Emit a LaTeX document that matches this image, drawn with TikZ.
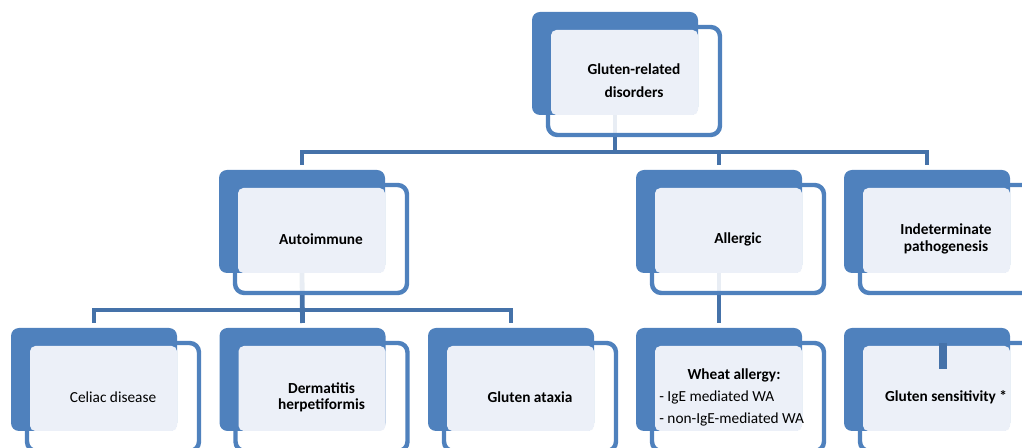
\documentclass[tikz,border=0pt]{standalone}
\usepackage{fontspec}
\setmainfont{Carlito}
\usepackage{tikz}
\usetikzlibrary{backgrounds}
\definecolor{boxblue}{HTML}{4F81BD}
\definecolor{linkblue}{HTML}{4572A9}
\definecolor{panelblue}{HTML}{ECF0F8}
\tikzstyle{backbox}=[fill=boxblue, rounded corners=6pt]
\tikzstyle{frontbox}=[draw=boxblue, line width=3.3pt, fill=white, fill opacity=0.88, rounded corners=7pt]
\tikzstyle{panelbox}=[fill=panelblue, rounded corners=4pt]
\tikzstyle{boxtext}=[inner sep=0pt, align=center, font=\fontsize{11.5}{13}\selectfont\bfseries]
\tikzstyle{link}=[draw=linkblue, line width=3.6pt]
\newcommand{\grbox}[5][]{%
  \draw[frontbox] ({#3+16},{#4+15}) rectangle ++(172,108);
  \fill[backbox] (#3,#4) rectangle ++(166,103);
  \fill[panelbox] ({#3+19},{#4+18}) rectangle ({#3+166},{#4+103});
  \node[boxtext, #1] (#2) at ({#3+102},{#4+69}) {#5};
  \coordinate (#2-in) at ({#3+83},{#4-5});
  \coordinate (#2-out) at ({#3+83},{#4+103});
}

\begin{document}
\begin{tikzpicture}[x=0.75pt, y=-0.75pt]
\useasboundingbox (0,0) rectangle (1022,448);
\clip (0,0) rectangle (1022,448);
% top
\grbox[font=\fontsize{11.5}{17.25}\selectfont\bfseries]{grd}{532}{12}{Gluten-related\\disorders}
% second row
\grbox{auto}{219}{170}{Autoimmune}
\grbox{allerg}{636}{170}{Allergic}
\grbox[font=\fontsize{11.5}{12.75}\selectfont\bfseries]{indet}{844}{170}{Indeterminate\\pathogenesis}
% third row
\grbox[font=\fontsize{11.5}{13}\selectfont]{celiac}{11}{328}{Celiac disease}
\grbox[font=\fontsize{11.5}{12}\selectfont\bfseries]{derm}{219.5}{328}{Dermatitis\\herpetiformis}
\grbox{ataxia}{428}{328}{Gluten ataxia}
\grbox[text width=112pt, align=none, xshift=-3pt, font=\fontsize{11.5}{16.5}\selectfont]{wheat}{636}{328}{%
  {\centering\bfseries Wheat allergy:\par}\raggedright
  - IgE mediated WA\par
  - non-IgE-mediated WA}
\grbox{gsens}{844}{328}{Gluten sensitivity *}
% connectors
\begin{scope}[on background layer]
\path (grd-out) ++(0,37) coordinate (bus1);
\draw[link] (grd-out) -- (bus1);
\draw[link] (auto-in) |- (bus1) -| (indet-in);
\draw[link] (allerg-in) -- (allerg-in |- bus1);
\path (auto-out) ++(0,37) coordinate (bus2);
\draw[link] (auto-out) -- (derm-in);
\draw[link] (celiac-in) |- (bus2) -| (ataxia-in);
\draw[link] (allerg-out) -- (wheat-in);
\end{scope}
\path (gsens-in) ++(16,20) coordinate (gs-stub);
\draw[link, line width=6pt] (gs-stub) -- ++(0,26);
\end{tikzpicture}
\end{document}
